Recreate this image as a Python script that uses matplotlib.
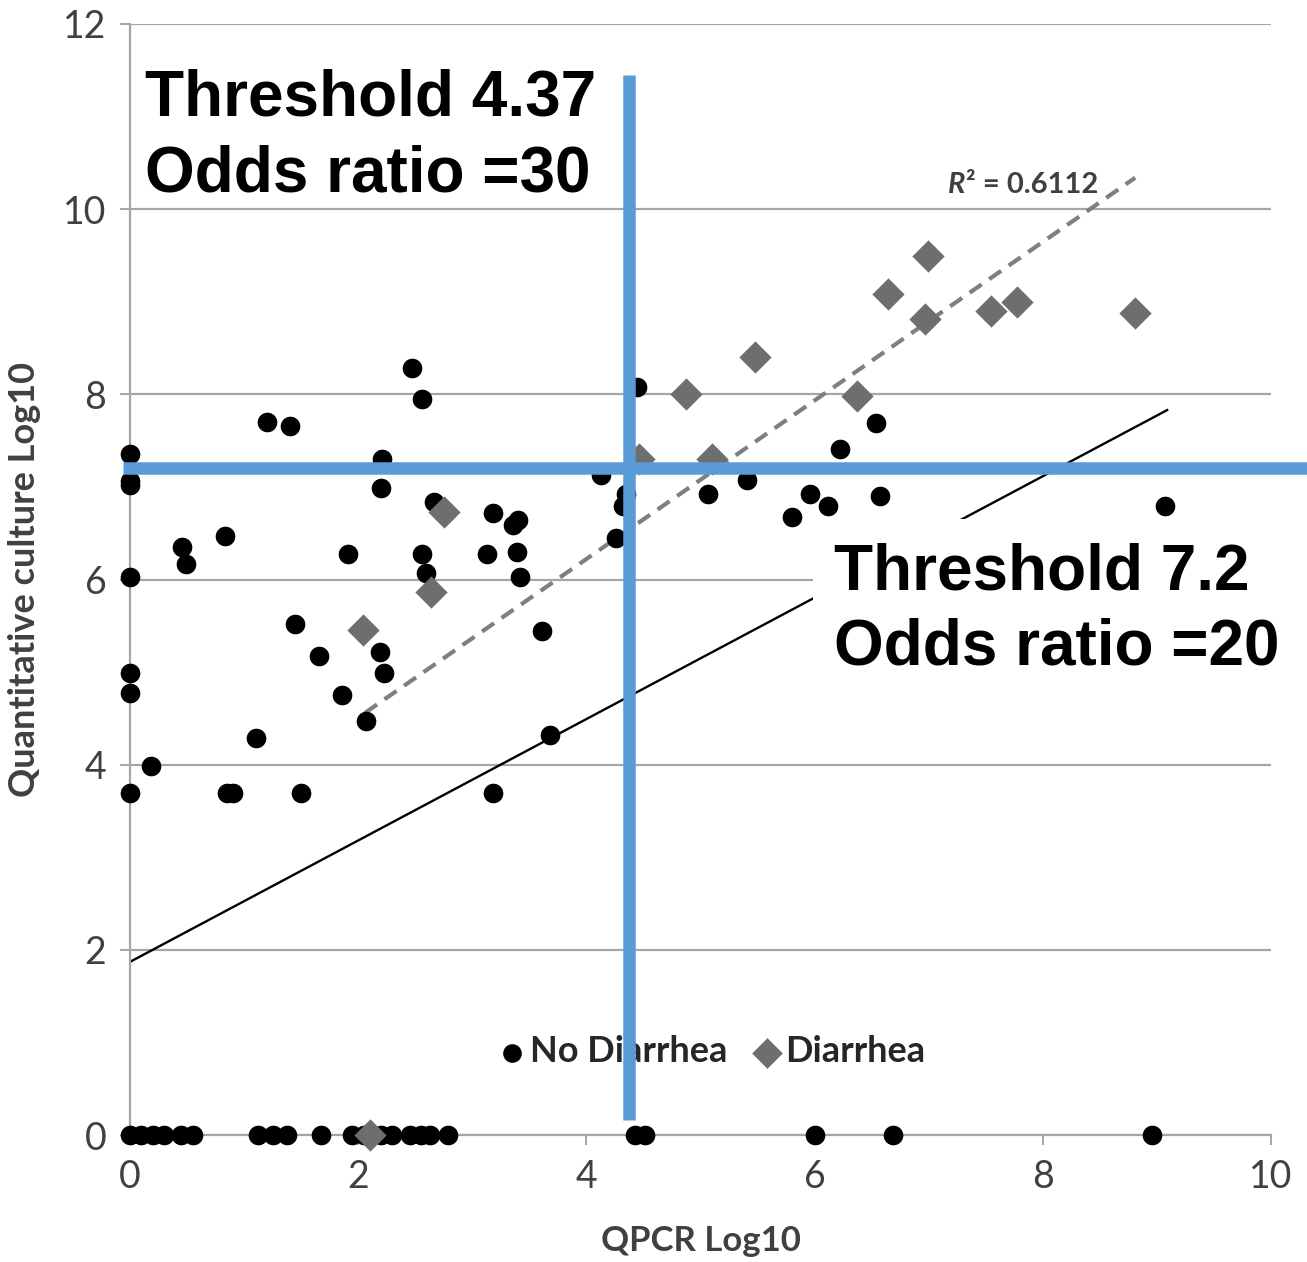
import matplotlib
matplotlib.use("Agg")
import matplotlib.pyplot as plt
from matplotlib.patches import Rectangle

# --- data -------------------------------------------------------------
no_diarrhea_x = [0, 0, 0, 0, 0, 0, 0, 0.18, 0.46, 0.49, 0.83, 0.85, 0.90, 1.10,
                 1.20, 1.40, 1.45, 1.50, 1.66, 1.86, 1.91, 2.07, 2.19, 2.21, 2.20,
                 2.23, 2.47, 2.56, 2.56, 2.59, 2.66, 3.13, 3.18, 3.18, 3.36, 3.40,
                 3.39, 3.42, 3.61, 3.68, 4.13, 4.26, 4.32, 4.35, 4.44, 5.07, 5.41,
                 5.80, 5.96, 6.12, 6.22, 6.54, 6.57, 9.07,
                 # undetected by culture
                 0, 0.1, 0.2, 0.3, 0.45, 0.55, 1.12, 1.25, 1.38, 1.67, 1.95, 2.05,
                 2.2, 2.3, 2.45, 2.55, 2.63, 2.79, 4.43, 4.51, 6.0, 6.69, 8.96]
no_diarrhea_y = [7.36, 7.06, 7.02, 6.03, 4.99, 4.77, 3.69, 3.99, 6.35, 6.17, 6.47,
                 3.69, 3.69, 4.29, 7.70, 7.66, 5.52, 3.69, 5.17, 4.75, 6.28, 4.47,
                 5.22, 7.30, 6.99, 4.99, 8.28, 7.95, 6.28, 6.07, 6.84, 6.28, 6.72,
                 3.69, 6.59, 6.64, 6.30, 6.03, 5.44, 4.32, 7.13, 6.45, 6.79, 6.92,
                 8.08, 6.92, 7.07, 6.68, 6.92, 6.79, 7.41, 7.69, 6.90, 6.79,
                 0, 0, 0, 0, 0, 0, 0, 0, 0, 0, 0, 0,
                 0, 0, 0, 0, 0, 0, 0, 0, 0, 0, 0]

diarrhea_x = [2.04, 2.64, 2.75, 4.46, 5.10, 4.87, 5.48, 6.37, 6.64, 6.97, 6.99,
              7.55, 7.77, 8.81, 2.10]
diarrhea_y = [5.45, 5.87, 6.73, 7.30, 7.30, 8.00, 8.40, 7.98, 9.08, 8.81, 9.49,
              8.90, 9.00, 8.88, 0]

# linear trend through the diarrhea group
trend_x = [2.06, 8.81]
trend_y = [4.56, 10.34]
r_squared = 0.6112

# reference line
ref_x = [0, 9.09]
ref_y = [1.87, 7.83]

# cut-offs
qpcr_threshold = 4.37
qpcr_odds_ratio = 30
culture_threshold = 7.2
culture_odds_ratio = 20

x_ticks = [0, 2, 4, 6, 8, 10]
y_ticks = [0, 2, 4, 6, 8, 10, 12]

# --- style ------------------------------------------------------------
W, H = 1307, 1262
plt.rcParams["font.family"] = ["Lato", "DejaVu Sans"]
fig = plt.figure(figsize=(W / 100, H / 100), dpi=100)
ax = fig.add_axes([130 / W, 1 - 1135 / H, (1271 - 130) / W, (1135 - 24) / H])

grid_col = "#a6a6a6"
text_col = "#404040"
blue = "#5b9bd5"

ax.set_xlim(0, 10)
ax.set_ylim(0, 12)
ax.set_xticks(x_ticks)
ax.set_yticks(y_ticks)
ax.yaxis.grid(True, color=grid_col, linewidth=1.6, zorder=0)
ax.set_axisbelow(True)
for side in ("top", "right"):
    ax.spines[side].set_visible(False)
for side in ("left", "bottom"):
    ax.spines[side].set_color(grid_col)
    ax.spines[side].set_linewidth(1.6)
ax.tick_params(axis="both", colors=grid_col, labelcolor=text_col, labelsize=27,
               width=1.4, length=7, direction="out")
ax.tick_params(axis="x", pad=10)
ax.tick_params(axis="y", pad=10)

ax.set_xlabel("QPCR Log10", fontsize=25, fontweight="bold", color=text_col, labelpad=22)
ax.set_ylabel("Quantitative culture Log10", fontsize=26, fontweight="bold",
              color=text_col, labelpad=16)

# --- marks ------------------------------------------------------------
ax.plot(ref_x, ref_y, color="black", linewidth=1.7, zorder=2)
ax.plot(trend_x, trend_y, color="#7f7f7f", linewidth=3.0, linestyle=(0, (3.5, 2.2)),
        zorder=2)

circles = ax.scatter(no_diarrhea_x, no_diarrhea_y, s=200, marker="o", color="black",
                     linewidths=0, zorder=3, clip_on=False, label="No Diarrhea")
diamonds = ax.scatter(diarrhea_x, diarrhea_y, s=270, marker="D", color="#6e6e6e",
                      linewidths=0, zorder=4, clip_on=False, label="Diarrhea")

r_lbl = ax.text(7.17, 10.18, "R", fontsize=21, fontweight="bold", style="italic",
                color=text_col, zorder=5)
ax.annotate(f"² = {r_squared}", xy=(1.0, 0.0), xycoords=r_lbl, fontsize=21,
            fontweight="bold", color=text_col, va="bottom", ha="left", zorder=5)

leg = ax.legend(handles=[circles, diamonds], loc="center", ncol=2, frameon=False,
                bbox_to_anchor=(713 / W, 1 - 1052 / H), bbox_transform=fig.transFigure,
                fontsize=26, handlelength=0.6, handletextpad=0.2, columnspacing=0.8,
                markerscale=0.95)
for t in leg.get_texts():
    t.set_fontweight("bold")
    t.set_color("#262626")

# --- cut-off overlays -------------------------------------------------
ax.plot([qpcr_threshold, qpcr_threshold], [0.16, 11.45], color=blue, linewidth=9,
        solid_capstyle="butt", zorder=6, clip_on=False)
ax.plot([-0.06, 10.35], [culture_threshold, culture_threshold], color=blue,
        linewidth=9, solid_capstyle="butt", zorder=6, clip_on=False)

fig.text(145 / W, 1 - 69 / H,
         f"Threshold {qpcr_threshold}\nOdds ratio ={qpcr_odds_ratio}",
         family=["Liberation Sans", "DejaVu Sans"], fontsize=46, fontweight="bold",
         color="black", va="top", ha="left", linespacing=1.32, zorder=8)

fig.patches.append(Rectangle((813 / W, 1 - 705 / H), (W - 813) / W, (705 - 519) / H,
                             transform=fig.transFigure, facecolor="white",
                             edgecolor="none", zorder=7))
fig.text(834 / W, 1 - 542 / H,
         f"Threshold {culture_threshold}\nOdds ratio ={culture_odds_ratio}",
         family=["Liberation Sans", "DejaVu Sans"], fontsize=46, fontweight="bold",
         color="black", va="top", ha="left", linespacing=1.32, zorder=8)

fig.savefig("out.png", dpi=100, facecolor="white")
